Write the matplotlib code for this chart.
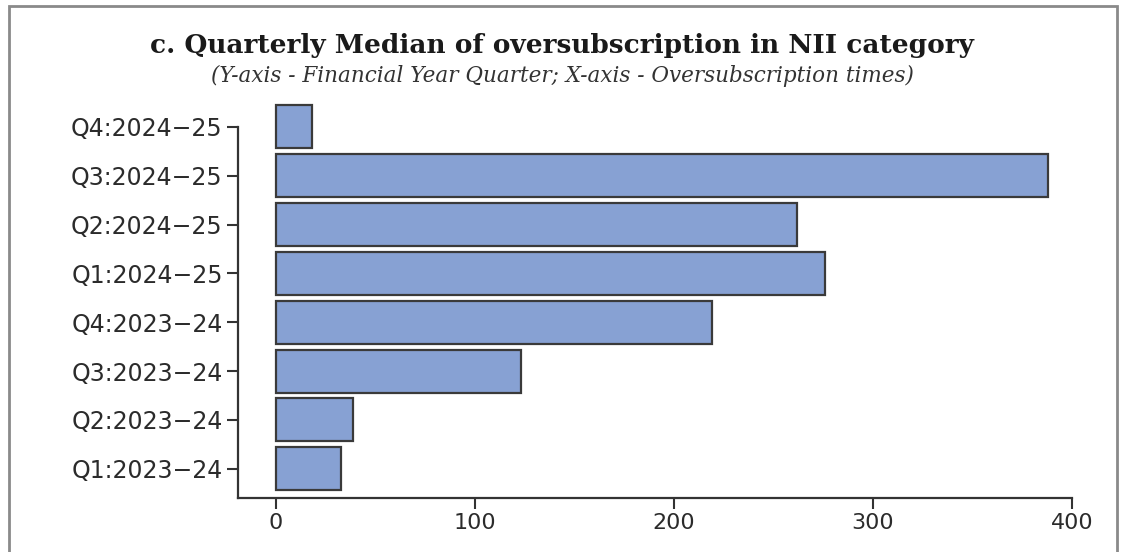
import numpy as np
import matplotlib.pyplot as plt
from matplotlib.patches import Rectangle

# quarters, bottom to top
quarters = ["Q1:2023\u221224", "Q2:2023\u221224", "Q3:2023\u221224", "Q4:2023\u221224",
            "Q1:2024\u221225", "Q2:2024\u221225", "Q3:2024\u221225", "Q4:2024\u221225"]
median_times = [33, 39, 123, 219, 276, 262, 388, 18]
x_ticks = [0, 100, 200, 300, 400]

fig = plt.figure(figsize=(11.24, 5.52), dpi=100)

# grey frame round the figure
fig.patches.append(Rectangle((0.008, -0.05), 0.986, 1.04, transform=fig.transFigure,
                             fill=False, edgecolor="#8a8a8a", linewidth=2))

ax = fig.add_axes([0.2117, 0.0978, 0.742, 0.712])
ypos = np.arange(len(quarters))
bars = ax.barh(ypos, median_times, height=0.88, color="#87a1d3",
               edgecolor="#3a3a3a", linewidth=1.6, clip_on=False)

ax.set_xlim(-19, 400)
ax.set_ylim(-0.6, 7.45)
ax.set_xticks(x_ticks)
ax.set_yticks(ypos)
ax.set_yticklabels(quarters, fontsize=17)

for s in ["top", "right"]:
    ax.spines[s].set_visible(False)
ax.spines["left"].set_bounds(-0.6, 7)
for s in ["left", "bottom"]:
    ax.spines[s].set_color("#333333")
    ax.spines[s].set_linewidth(1.6)

ax.tick_params(axis="both", length=8, width=1.5, color="#333333",
               labelsize=16, labelcolor="#2b2b2b", pad=3)
ax.tick_params(axis="y", labelsize=17)

fig.text(0.5, 0.917, "c. Quarterly Median of oversubscription in NII category",
         ha="center", va="center", fontsize=19, fontweight="bold",
         family="DejaVu Serif", color="#1a1a1a")
fig.text(0.5, 0.862, "(Y-axis - Financial Year Quarter; X-axis - Oversubscription times)",
         ha="center", va="center", fontsize=15.5, style="italic",
         family="DejaVu Serif", color="#333333")

fig.savefig("out.png", dpi=100)
